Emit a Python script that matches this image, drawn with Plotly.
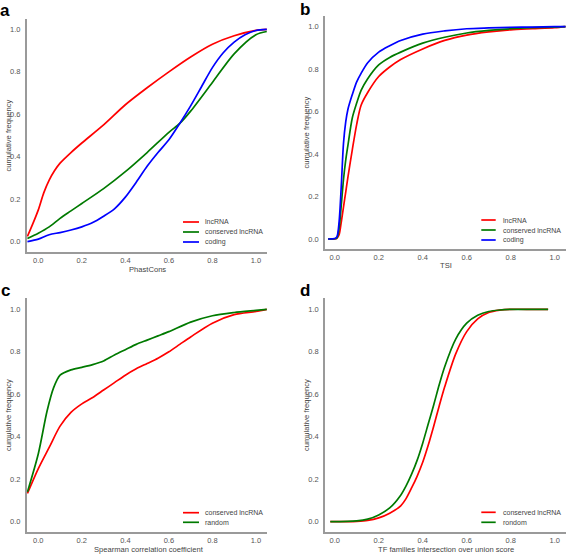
import plotly.graph_objects as go

# ---------------- data ----------------
# Panel a: PhastCons
a_x_lnc = [-0.05, -0.025, 0.0, 0.025, 0.05, 0.075, 0.1, 0.15, 0.2, 0.3, 0.4, 0.5, 0.6, 0.7, 0.8, 0.9, 1.0, 1.05]
a_y_lnc = [0.025, 0.085, 0.15, 0.23, 0.29, 0.335, 0.37, 0.42, 0.465, 0.55, 0.645, 0.725, 0.80, 0.87, 0.93, 0.97, 0.995, 1.0]
a_x_cons = [-0.05, 0.0, 0.05, 0.1, 0.15, 0.2, 0.3, 0.4, 0.5, 0.6, 0.65, 0.7, 0.8, 0.9, 1.0, 1.05]
a_y_cons = [0.015, 0.04, 0.07, 0.11, 0.145, 0.18, 0.25, 0.33, 0.42, 0.515, 0.557, 0.615, 0.75, 0.885, 0.975, 0.99]
a_x_cod = [-0.05, 0.0, 0.05, 0.1, 0.15, 0.2, 0.25, 0.3, 0.35, 0.4, 0.45, 0.5, 0.55, 0.6, 0.65, 0.7, 0.75, 0.8, 0.85, 0.9, 0.95, 1.0, 1.05]
a_y_cod = [0.0, 0.012, 0.033, 0.043, 0.055, 0.07, 0.09, 0.12, 0.155, 0.21, 0.28, 0.355, 0.42, 0.48, 0.557, 0.64, 0.73, 0.82, 0.89, 0.94, 0.975, 0.995, 1.0]

# Panel b: TSI
b_x = [-0.03, 0.0, 0.01, 0.02, 0.03, 0.04, 0.05, 0.06, 0.08, 0.10, 0.12, 0.15, 0.2, 0.25, 0.3, 0.4, 0.5, 0.6, 0.7, 0.8, 0.9, 1.0, 1.05]
b_y_lnc = [0.0, 0.0, 0.003, 0.02, 0.08, 0.15, 0.22, 0.29, 0.42, 0.54, 0.63, 0.69, 0.765, 0.81, 0.845, 0.895, 0.935, 0.96, 0.975, 0.985, 0.99, 0.995, 1.0]
b_y_cons = [0.0, 0.001, 0.005, 0.05, 0.16, 0.28, 0.37, 0.44, 0.57, 0.64, 0.70, 0.755, 0.82, 0.855, 0.88, 0.922, 0.95, 0.97, 0.982, 0.99, 0.995, 0.998, 1.0]
b_y_cod = [0.0, 0.002, 0.01, 0.08, 0.25, 0.45, 0.55, 0.61, 0.68, 0.74, 0.78, 0.83, 0.88, 0.91, 0.935, 0.965, 0.98, 0.99, 0.994, 0.997, 0.998, 1.0, 1.0]

# Panel c: Spearman correlation coefficient
c_x_cons = [-0.05, 0.0, 0.05, 0.1, 0.15, 0.2, 0.25, 0.3, 0.35, 0.4, 0.45, 0.5, 0.55, 0.6, 0.65, 0.7, 0.8, 0.9, 1.0, 1.05]
c_y_cons = [0.133, 0.25, 0.35, 0.45, 0.515, 0.555, 0.585, 0.62, 0.655, 0.69, 0.72, 0.745, 0.77, 0.80, 0.835, 0.87, 0.935, 0.975, 0.99, 1.0]
c_x_rand = [-0.05, 0.0, 0.04, 0.07, 0.1, 0.15, 0.2, 0.25, 0.3, 0.35, 0.4, 0.45, 0.5, 0.55, 0.6, 0.7, 0.8, 0.9, 1.0, 1.05]
c_y_rand = [0.14, 0.32, 0.52, 0.63, 0.69, 0.715, 0.727, 0.74, 0.757, 0.785, 0.81, 0.835, 0.855, 0.875, 0.895, 0.94, 0.97, 0.985, 0.995, 1.0]

# Panel d: TF families intersection over union score
d_x = [-0.02, 0.1, 0.15, 0.2, 0.25, 0.3, 0.325, 0.35, 0.375, 0.4, 0.425, 0.45, 0.475, 0.5, 0.55, 0.6, 0.65, 0.7, 0.75, 0.8, 0.9, 0.97]
d_y_cons = [0.0, 0.002, 0.006, 0.018, 0.04, 0.075, 0.11, 0.16, 0.215, 0.28, 0.36, 0.45, 0.545, 0.635, 0.79, 0.895, 0.955, 0.985, 0.996, 1.0, 1.0, 1.0]
d_y_rand = [0.0, 0.004, 0.012, 0.032, 0.065, 0.125, 0.17, 0.225, 0.29, 0.37, 0.46, 0.55, 0.645, 0.73, 0.86, 0.935, 0.972, 0.99, 0.997, 1.0, 1.0, 1.0]

tick_vals = [0.0, 0.2, 0.4, 0.6, 0.8, 1.0]
RED, GREEN, BLUE = "#ff0000", "#007a00", "#0000ff"
FONT = "Liberation Sans, Arial, sans-serif"

W, H = 567, 554

def px_x(p):
    return p / W

def px_y(p):
    return 1 - p / H

fig = go.Figure()

def add(x, y, color, ax):
    fig.add_trace(go.Scatter(x=x, y=y, mode="lines", line=dict(color=color, width=1.7, shape="spline", smoothing=0.8),
                             xaxis="x" + ax, yaxis="y" + ax, showlegend=False, hoverinfo="skip"))

add(a_x_lnc, a_y_lnc, RED, "")
add(a_x_cons, a_y_cons, GREEN, "")
add(a_x_cod, a_y_cod, BLUE, "")
add(b_x, b_y_lnc, RED, "2")
add(b_x, b_y_cons, GREEN, "2")
add(b_x, b_y_cod, BLUE, "2")
add(c_x_cons, c_y_cons, RED, "3")
add(c_x_rand, c_y_rand, GREEN, "3")
add(d_x, d_y_cons, RED, "4")
add(d_x, d_y_rand, GREEN, "4")

# panel geometry (pixels): left, right, top, bottom
panels = {
    "": (27, 267, 19, 252, [-0.052, 1.051], [-0.0485, 1.049]),
    "2": (325.3, 565.7, 16, 249.3, [-0.0427, 1.05], [-0.0485, 1.05]),
    "3": (27, 267, 298.3, 531.7, [-0.052, 1.051], [-0.047, 1.052]),
    "4": (325.3, 565.7, 298.3, 531.7, [-0.0427, 1.05], [-0.047, 1.052]),
}

axis_common = dict(showgrid=False, zeroline=False, showline=True, linecolor="#9a9a9a", linewidth=2,
                   ticks="", tickvals=tick_vals, tickformat=".1f", automargin=False,
                   tickfont=dict(size=7.5, color="#555555", family=FONT))
layout = {}
for k, (l, r, t, b, xr, yr) in panels.items():
    layout["xaxis" + k] = dict(axis_common, domain=[px_x(l), px_x(r)], range=xr,
                               anchor="y" + k, ticklabelstandoff=0)
    layout["yaxis" + k] = dict(axis_common, domain=[px_y(b), px_y(t)], range=yr,
                               anchor="x" + k, ticklabelstandoff=3)

fig.update_layout(width=W, height=H, margin=dict(l=0, r=0, t=0, b=0, autoexpand=False),
                  paper_bgcolor="white", plot_bgcolor="white", **layout)

ann = []
shapes = []
font_lab = dict(size=7.6, color="#444444", family=FONT)
# axis titles
xtitles = [("PhastCons", 147, 269), ("TSI", 445.5, 266), ("Spearman correlation coefficient", 149, 549.5),
           ("TF families intersection over union score", 445.5, 549.5)]
for txt, x, y in xtitles:
    ann.append(dict(text=txt, x=px_x(x), y=px_y(y), xref="paper", yref="paper", showarrow=False,
                    font=font_lab, xanchor="center", yanchor="middle"))
ytitles = [(8, 135.5), (306, 132.5), (8, 415), (306, 415)]
for x, y in ytitles:
    ann.append(dict(text="cumulative frequency", x=px_x(x), y=px_y(y), xref="paper", yref="paper",
                    showarrow=False, font=font_lab, textangle=-90, xanchor="center", yanchor="middle"))
# panel letters
for txt, x, y in [("a", 5, 10), ("b", 305, 9), ("c", 5, 290), ("d", 305, 290)]:
    ann.append(dict(text="<b>%s</b>" % txt, x=px_x(x), y=px_y(y), xref="paper", yref="paper", showarrow=False,
                    font=dict(size=17, color="black", family=FONT),
                    xanchor="center", yanchor="middle"))

# legends
legends = [
    (183, 199, 203, [(222, RED, "lncRNA"), (232, GREEN, "conserved lncRNA"), (242, BLUE, "coding")]),
    (481.3, 495.7, 501.3, [(220, RED, "lncRNA"), (230, GREEN, "conserved lncRNA"), (240, BLUE, "coding")]),
    (183, 199, 203, [(512.7, RED, "conserved lncRNA"), (522.3, GREEN, "random")]),
    (481.3, 495.7, 501.3, [(512.3, RED, "conserved lncRNA"), (522.3, GREEN, "rondom")]),
]
for x0, x1, xt, rows in legends:
    for y, col, txt in rows:
        shapes.append(dict(type="line", xref="paper", yref="paper", x0=px_x(x0), x1=px_x(x1),
                           y0=px_y(y), y1=px_y(y), line=dict(color=col, width=1.7)))
        ann.append(dict(text=txt, x=px_x(xt), y=px_y(y), xref="paper", yref="paper", showarrow=False,
                        font=dict(size=7, color="#444444", family=FONT),
                        xanchor="left", yanchor="middle"))

fig.update_layout(annotations=ann, shapes=shapes)
fig.write_html("out.html", config={"displayModeBar": False},
               post_script="document.body.style.margin='0';document.body.style.padding='0';"
                           "document.documentElement.style.overflow='hidden';")
